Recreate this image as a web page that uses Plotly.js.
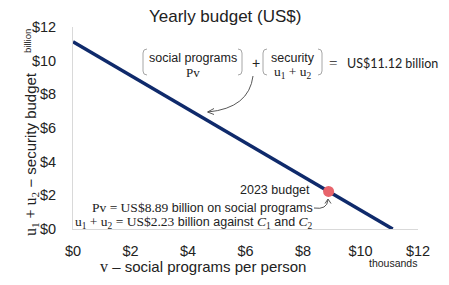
<!DOCTYPE html>
<html>
<head>
<meta charset="utf-8">
<script src="https://cdn.plot.ly/plotly-3.0.1.min.js"></script>
<style>html,body{margin:0;padding:0;background:#fff;}#chart{width:449px;height:285px;}</style>
</head>
<body>
<div id="chart"></div>
<script>
// ---- data ----
const totalBudget = 11.12;          // US$ billion
const lineV = [0, totalBudget];     // v (thousands)
const lineU = [totalBudget, 0];     // u1 + u2 (billion)
const pointV = [8.89];
const pointU = [2.23];
const tickVals = [0, 2, 4, 6, 8, 10, 12];
const tickText = ['$0', '$2', '$4', '$6', '$8', '$10', '$12'];

// ---- geometry helpers (pixel -> paper) ----
const W = 449, H = 285;
const M = {l: 73, r: 31, t: 27, b: 56};
const PW = W - M.l - M.r, PH = H - M.t - M.b;
const px = x => (x - M.l) / PW;
const py = y => (H - M.b - y) / PH;

const SANS = 'Liberation Sans, Arial, sans-serif';
const SERIF = 'Liberation Serif, Times New Roman, serif';
const TXT = '#222';
const serif = (s, size) => '<span style="font-family:' + SERIF + ';font-size:' + size + 'px">' + s + '</span>';

function ann(x, y, text, opt) {
  return Object.assign({
    xref: 'paper', yref: 'paper', x: px(x), y: py(y), text: text,
    showarrow: false, xanchor: 'center', yanchor: 'middle',
    font: {family: SANS, size: 12, color: TXT}
  }, opt || {});
}

function bracketL(x, y0, y1) {
  return 'M' + P(x + 4, y0) + ' Q' + P(x, y0) + ' ' + P(x, y0 + 4) +
         ' L' + P(x, y1 - 4) + ' Q' + P(x, y1) + ' ' + P(x + 4, y1);
}
function bracketR(x, y0, y1) {
  return 'M' + P(x - 4, y0) + ' Q' + P(x, y0) + ' ' + P(x, y0 + 4) +
         ' L' + P(x, y1 - 4) + ' Q' + P(x, y1) + ' ' + P(x - 4, y1);
}
function shapePath(d, color, width) {
  return {type: 'path', xref: 'paper', yref: 'paper', path: d,
          line: {color: color, width: width}};
}
function P(x, y) { return px(x) + ',' + py(y); }

const shapes = [
  shapePath(bracketL(143, 49, 75), '#a6a6a6', 1),
  shapePath(bracketR(242, 49, 75), '#a6a6a6', 1),
  shapePath(bracketL(263, 49, 75), '#a6a6a6', 1),
  shapePath(bracketR(322, 49, 75), '#a6a6a6', 1),
  // big curved arrow
  shapePath('M' + P(253, 76) + ' Q' + P(249, 108) + ' ' + P(208, 112), '#444', 0.9),
  shapePath('M' + P(214, 108.5) + ' L' + P(207.5, 112) + ' L' + P(214, 114.5), '#444', 0.9),
  // small curved arrow
  shapePath('M' + P(314, 208) + ' Q' + P(327, 210) + ' ' + P(328, 200), '#444', 0.9),
  shapePath('M' + P(325, 203.5) + ' L' + P(328, 199) + ' L' + P(331, 203.5), '#444', 0.9)
];

const annotations = [
  ann(225, 17, 'Yearly budget (US$)', {font: {family: SANS, size: 17, color: TXT}}),
  ann(192.5, 58, 'social programs', {font: {family: SANS, size: 12.5, color: TXT}}),
  ann(192.5, 72, 'Pv', {font: {family: SERIF, size: 13, color: TXT}}),
  ann(256, 63, '+', {font: {family: SANS, size: 14, color: TXT}}),
  ann(292.5, 58, 'security', {font: {family: SANS, size: 12.5, color: TXT}}),
  ann(292.5, 72, 'u<sub>1</sub> + u<sub>2</sub>', {font: {family: SERIF, size: 13.5, color: TXT}}),
  ann(333, 63, '=', {font: {family: SERIF, size: 15, color: TXT}}),
  ann(345, 63, 'US$11.12 billion', {xanchor: 'left', font: {family: 'Lato, sans-serif', size: 12.5, color: TXT}}),
  ann(312, 190, '2023 budget', {xanchor: 'right', font: {family: SANS, size: 12.5, color: TXT}}),
  ann(315, 207, serif('Pv = US$8.89', 13.5) + ' billion on social programs',
      {xanchor: 'right', font: {family: SANS, size: 12.5, color: TXT}}),
  ann(315, 222, serif('u<sub>1</sub> + u<sub>2</sub> = US$2.23', 13.5) + ' billion against ' +
      serif('<i>C</i><sub>1</sub>', 13.5) + ' and ' + serif('<i>C</i><sub>2</sub>', 13.5),
      {xanchor: 'right', font: {family: SANS, size: 12.5, color: TXT}}),
  ann(203, 266, serif('v', 16) + ' – social programs per person', {font: {family: SANS, size: 15, color: TXT}}),
  ann(393, 263, 'thousands', {font: {family: SANS, size: 10.5, color: TXT}}),
  ann(31, 154, serif('u<sub>1</sub> + u<sub>2</sub>', 16) + ' − security budget',
      {textangle: -90, font: {family: SANS, size: 15, color: TXT}}),
  ann(28, 41, 'billion', {textangle: -90, font: {family: SANS, size: 9.5, color: TXT}})
];

const axisBase = {
  range: [0, 12], tickvals: tickVals, ticktext: tickText,
  showline: true, linecolor: '#d9d9d9', linewidth: 1,
  showgrid: false, zeroline: false, ticks: '',
  tickfont: {family: SANS, size: 14.5, color: TXT},
  fixedrange: true
};

const data = [
  {x: lineV, y: lineU, type: 'scatter', mode: 'lines',
   line: {color: '#0f2a6b', width: 3.5}, hoverinfo: 'skip', cliponaxis: true},
  {x: pointV, y: pointU, type: 'scatter', mode: 'markers',
   marker: {color: '#e8646c', size: 11}, hoverinfo: 'skip', cliponaxis: false}
];

const layout = {
  width: W, height: H, margin: M,
  paper_bgcolor: '#fff', plot_bgcolor: '#fff', showlegend: false,
  xaxis: Object.assign({}, axisBase, {ticklabelstandoff: 9}),
  yaxis: Object.assign({}, axisBase, {ticklabelstandoff: 13}),
  shapes: shapes, annotations: annotations
};

Plotly.newPlot('chart', data, layout, {staticPlot: true, displayModeBar: false});
</script>
</body>
</html>
